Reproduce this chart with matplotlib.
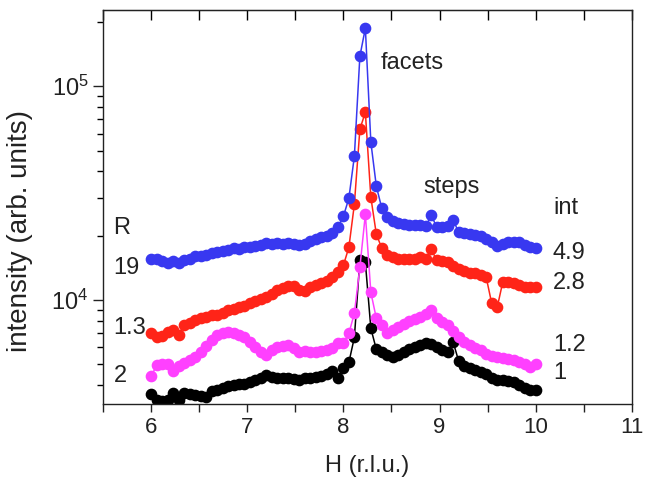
import numpy as np
import matplotlib
matplotlib.use("Agg")
import matplotlib.pyplot as plt
from matplotlib.ticker import MultipleLocator, LogLocator, NullFormatter, FixedLocator, FixedFormatter

plt.rcParams['font.family'] = ['Liberation Sans', 'DejaVu Sans']
plt.rcParams['mathtext.fontset'] = 'custom'
plt.rcParams['mathtext.rm'] = 'Liberation Sans'
plt.rcParams['mathtext.it'] = 'Liberation Sans'

# scan positions H (r.l.u.)
H = np.linspace(6, 10, 71)

# intensities
blue = [15600, 15480, 15150, 14830, 15150, 14830, 15320, 15600, 16000, 16000,
        16300, 16510, 16700, 16880, 17060, 17430, 17240, 17620, 17620, 17810,
        18010, 18400, 18200, 18400, 18200, 18400, 18200, 18010, 18200, 18790,
        19200, 19620, 19830, 20480, 21860, 24600, 29880, 47000, 138000, 187000,
        54700, 34000, 26800, 24350, 23320, 22820, 22570, 22330, 22330, 22330,
        22100, 24880, 21860, 21860, 22100, 23570, 20710, 20480, 20280, 20050,
        19830, 19200, 18590, 17810, 18200, 18590, 18590, 18590, 18010, 17620, 17430]
red = [6970, 6670, 6745, 7040, 7200, 6820, 7600, 7760, 8010, 8190,
       8280, 8460, 8460, 8640, 8930, 9030, 9220, 9320, 9630, 9840,
       10050, 10270, 10610, 11080, 11320, 11570, 11570, 11080, 10960, 11440,
       11690, 11950, 12300, 12740, 13450, 14500, 17620, 28000, 62900, 75500,
       30200, 20280, 17430, 16300, 15810, 15600, 15600, 15600, 15600, 15810,
       15600, 17240, 15300, 15150, 14980, 14390, 13900, 13600, 13330, 13330,
       13030, 12740, 9630, 9220, 12080, 12080, 11950, 11690, 11440, 11440, 11440]
magenta = [4380, 4935, 4990, 4990, 4630, 4880, 5040, 5210, 5380, 5680,
           6056, 6461, 6820, 6970, 7040, 6970, 6820, 6670, 6324, 5990,
           5680, 5500, 5800, 5990, 6056, 6120, 5930, 5680, 5738, 5680,
           5680, 5738, 5800, 5930, 6250, 6250, 6970, 8645, 14200, 25150,
           10840, 8190, 7600, 6970, 7200, 7433, 7677, 7930, 8100, 8280,
           8550, 8930, 8190, 7850, 7600, 7120, 6670, 6324, 6120, 5930,
           5800, 5555, 5437, 5380, 5320, 5265, 5210, 5100, 4990, 4830, 4990]
black = [3608, 3382, 3346, 3382, 3647, 3382, 3647, 3608, 3570, 3532,
         3494, 3727, 3768, 3850, 3934, 3977, 4020, 4020, 4108, 4198,
         4289, 4430, 4335, 4289, 4289, 4289, 4243, 4198, 4289, 4289,
         4335, 4383, 4477, 4624, 4289, 4776, 5097, 6670, 15300, 14980,
         7350, 5862, 5676, 5500, 5380, 5500, 5676, 5862, 5990, 6120,
         6250, 6188, 5990, 5800, 5676, 6324, 5152, 4880, 4776, 4675,
         4574, 4477, 4289, 4198, 4198, 4153, 4108, 3977, 3850, 3768, 3768]

R_labels = ["19", "1.3", "2"]
R_pos = [1.405e4, 7350, 4380]
int_labels = ["4.9", "2.8", "1.2", "1"]
int_pos = [1.65e4, 1.195e4, 6120, 4524]

fig = plt.figure(figsize=(6.48, 4.84), dpi=100)
ax = fig.add_axes([0.159, 0.165, 0.816, 0.814])

for y, c in [(black, 'black'), (magenta, '#ff40ff'), (red, '#ff2418'), (blue, '#3838f0')]:
    ax.plot(H, y, '-', color=c, lw=1.1, marker='o', ms=7.4, mec=c, mfc=c)

ax.set_yscale('log')
ax.set_xlim(5.5, 11)
ax.set_ylim(3250, 2.27e5)

ax.xaxis.set_major_locator(MultipleLocator(1))
ax.xaxis.set_minor_locator(MultipleLocator(0.5))
ax.yaxis.set_major_locator(FixedLocator([1e4, 1e5]))
ax.yaxis.set_major_formatter(FixedFormatter(['$10^4$', '$10^5$']))
ax.yaxis.set_minor_locator(LogLocator(base=10, subs=np.arange(2, 10)))
ax.yaxis.set_minor_formatter(NullFormatter())

ax.tick_params(axis='x', which='both', direction='out', length=6, width=1,
               top=False, labelsize=16, colors='#222222')
ax.tick_params(axis='y', which='major', direction='out', length=7, width=1,
               labelsize=17, colors='#222222')
ax.tick_params(axis='y', which='minor', direction='out', length=4, width=1)
for sp in ax.spines.values():
    sp.set_linewidth(1.0)
    sp.set_color('#222222')

# top ticks point inward
sec = ax.secondary_xaxis('top')
sec.xaxis.set_major_locator(MultipleLocator(0.5))
sec.tick_params(direction='in', length=7, width=1, labeltop=False)

ax.set_xlabel("H (r.l.u.)", fontsize=17, labelpad=12, color='#222222')
ax.set_ylabel("intensity (arb. units)", fontsize=20, color='#222222')
ax.yaxis.set_label_coords(-0.132, 0.44)

tk = dict(fontsize=17, color='#222222', va='center', ha='left')
ax.text(8.39, 1.29e5, "facets", **tk)
ax.text(8.83, 3.37e4, "steps", **tk)
ax.text(10.18, 2.68e4, "int", **tk)
for lab, yv in zip(int_labels, int_pos):
    ax.text(10.18, yv, lab, **tk)
ax.text(5.61, 2.16e4, "R", **tk)
for lab, yv in zip(R_labels, R_pos):
    ax.text(5.61, yv, lab, **tk)

fig.savefig('out.png', dpi=100)
